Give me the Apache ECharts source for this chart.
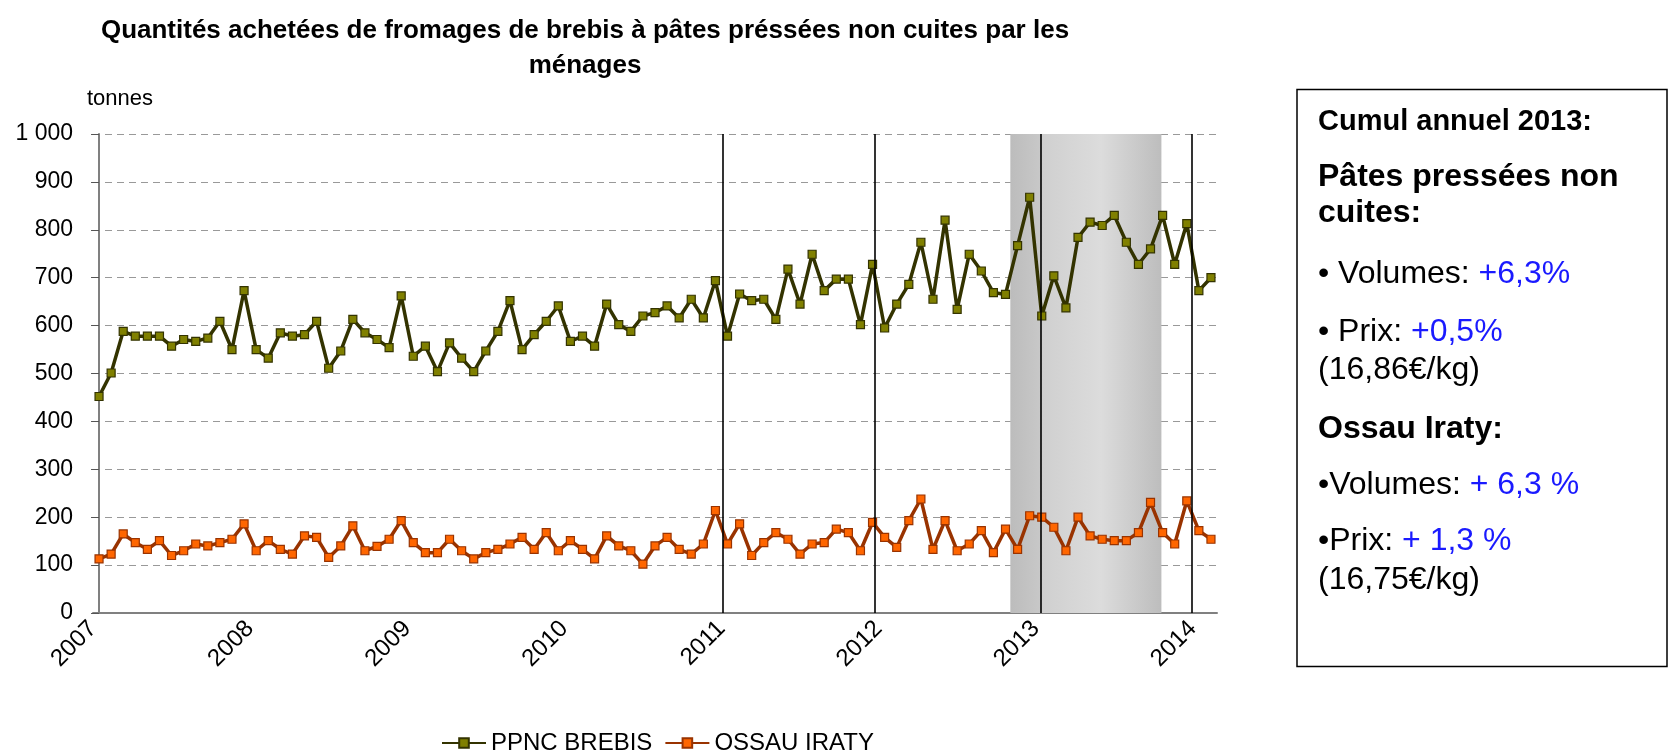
<!DOCTYPE html>
<html>
<head>
<meta charset="utf-8">
<script src="https://cdn.jsdelivr.net/npm/echarts@6/dist/echarts.min.js"></script>
<style>
  html, body { margin: 0; padding: 0; background: #fff; }
  #chart { width: 1670px; height: 750px; }
</style>
</head>
<body>
<div id="chart"></div>
<script>
// periodes de 4 semaines (13 par an), de 2007 P1 a 2014 P2
var years = ['2007', '2008', '2009', '2010', '2011', '2012', '2013', '2014'];
var periodsPerYear = 13;

var ppncBrebis = [
  452, 501, 588, 578, 578, 578, 557, 571, 567, 574, 609, 550, 673,
  550, 532, 585, 578, 581, 609, 511, 547, 613, 585, 571, 554, 662,
  536, 557, 504, 564, 532, 504, 547, 588, 652, 550, 581, 609, 641,
  567, 578, 557, 645, 602, 588, 620, 627, 641, 616, 655, 616, 694,
  578, 666, 652, 655, 613, 718, 645, 749, 673, 697, 697, 602, 728,
  595, 645, 686, 774, 655, 820, 634, 749, 714, 669, 665, 767, 868,
  620, 704, 637, 784, 816, 809, 830, 774, 728, 760, 830, 728, 813,
  673, 700
];
var ossauIraty = [
  113, 123, 165, 147, 133, 151, 120, 130, 144, 140, 147, 154, 186,
  130, 151, 133, 123, 161, 158, 116, 140, 182, 130, 139, 154, 193,
  147, 126, 126, 154, 130, 113, 126, 133, 144, 158, 133, 168, 130,
  151, 133, 113, 161, 140, 130, 102, 140, 158, 133, 123, 144, 214,
  144, 186, 120, 147, 168, 154, 123, 144, 147, 175, 168, 130, 189,
  158, 137, 193, 238, 133, 193, 130, 144, 172, 126, 175, 133, 203,
  200, 179, 130, 200, 161, 154, 151, 151, 168, 231, 168, 144, 234,
  172, 154
];

// traits verticaux (debut d'annee) et zone grisee, en rang de periode
var yearLines = [51.6, 64.2, 77.9, 90.4];
var shadedSpan = [75.4, 87.9];

var categories = [];
for (var i = 0; i < ppncBrebis.length; i++) {
  var y = years[Math.floor(i / periodsPerYear)];
  categories.push(y + ' P' + (i % periodsPerYear + 1));
}
var yearTicks = years.map(function (y, k) { return k * periodsPerYear - 0.5; });

var FONT = 'Liberation Sans, Arial, sans-serif';

function boxLine(y, text, font) {
  return { type: 'text', x: 0, y: y, style: { text: text, font: font, fill: '#000', verticalAlign: 'middle' } };
}
function boxRich(y, label, value) {
  return {
    type: 'text', x: 0, y: y,
    style: {
      text: '{n|' + label + '}{b|' + value + '}',
      verticalAlign: 'middle',
      rich: {
        n: { font: '32px ' + FONT, fill: '#000' },
        b: { font: '32px ' + FONT, fill: '#1a1aff' }
      }
    }
  };
}

var chart = echarts.init(document.getElementById('chart'));
chart.setOption({
  backgroundColor: '#fff',
  animation: false,
  title: {
    text: 'Quantités achetées de fromages de brebis à pâtes préssées non cuites par les\nménages',
    left: 580,
    top: 8,
    textAlign: 'center',
    textStyle: { fontFamily: FONT, fontSize: 26, fontWeight: 'bold', color: '#000', lineHeight: 35 }
  },
  legend: {
    data: ['PPNC BREBIS', 'OSSAU IRATY'],
    left: 436,
    top: 726,
    itemWidth: 44,
    itemHeight: 12,
    itemGap: 12,
    textStyle: { fontFamily: FONT, fontSize: 24, color: '#000' }
  },
  grid: { left: 93, right: 453, top: 134, bottom: 137, containLabel: false },
  xAxis: [{
    type: 'category',
    data: categories,
    boundaryGap: true,
    axisLine: { lineStyle: { color: '#808080', width: 2 } },
    axisTick: { interval: 0, length: 8, lineStyle: { color: '#222', width: 1 } },
    axisLabel: { show: false },
    splitLine: { show: false }
  }, {
    type: 'value',
    min: -0.5,
    max: categories.length - 0.5,
    position: 'bottom',
    axisLine: { show: false },
    axisTick: { show: false },
    splitLine: { show: false },
    axisLabel: {
      customValues: yearTicks,
      rotate: 45,
      margin: 12,
      fontFamily: FONT,
      fontSize: 24,
      color: '#000',
      formatter: function (v) { return years[Math.round((v + 0.5) / periodsPerYear)]; }
    }
  }],
  yAxis: {
    type: 'value',
    min: 0,
    max: 1000,
    interval: 100,
    axisLine: { show: true, lineStyle: { color: '#808080', width: 2 } },
    axisTick: { show: true, length: 8, lineStyle: { color: '#555' } },
    axisLabel: {
      margin: 20,
      fontFamily: FONT,
      fontSize: 23,
      color: '#000',
      formatter: function (v) { return v >= 1000 ? '1 000' : String(v); }
    },
    splitLine: { lineStyle: { color: '#999', type: [7, 5], width: 1 } }
  },
  series: [{
    name: 'zone',
    type: 'line',
    xAxisIndex: 1,
    data: [[-0.5, 0]],
    symbol: 'none',
    lineStyle: { opacity: 0 },
    silent: true,
    z: -1,
    markArea: {
      silent: true,
      itemStyle: {
        color: {
          type: 'linear', x: 0, y: 0, x2: 1, y2: 0,
          colorStops: [
            { offset: 0, color: '#bcbcbc' },
            { offset: 0.2, color: '#c8c8c8' },
            { offset: 0.2, color: '#cfcfcf' },
            { offset: 0.6, color: '#dcdcdc' },
            { offset: 1, color: '#bdbdbd' }
          ]
        }
      },
      data: [[{ coord: [shadedSpan[0], 1000] }, { coord: [shadedSpan[1], 0] }]]
    }
  }, {
    name: 'traits',
    type: 'line',
    xAxisIndex: 1,
    data: [[-0.5, 0]],
    symbol: 'none',
    lineStyle: { opacity: 0 },
    silent: true,
    z: 1,
    markLine: {
      silent: true,
      symbol: 'none',
      label: { show: false },
      lineStyle: { color: '#000', width: 1.6, type: 'solid' },
      data: yearLines.map(function (x) {
        return [{ coord: [x, 1000] }, { coord: [x, 0] }];
      })
    }
  }, {
    name: 'PPNC BREBIS',
    type: 'line',
    data: ppncBrebis,
    symbol: 'rect',
    symbolSize: 8,
    z: 3,
    lineStyle: { color: '#333300', width: 3.5 },
    itemStyle: { color: '#808000', borderColor: '#333300', borderWidth: 1.2 }
  }, {
    name: 'OSSAU IRATY',
    type: 'line',
    data: ossauIraty,
    symbol: 'rect',
    symbolSize: 8,
    z: 3,
    lineStyle: { color: '#993300', width: 3.5 },
    itemStyle: { color: '#ff6600', borderColor: '#993300', borderWidth: 1.2 }
  }],
  graphic: [
    {
      type: 'text', left: 87, top: 88,
      style: { text: 'tonnes', fontFamily: FONT, fontSize: 22, fill: '#000' }
    },
    {
      type: 'rect',
      shape: { x: 1297, y: 89.5, width: 370, height: 577 },
      style: { fill: '#fff', stroke: '#000', lineWidth: 1.5 }
    },
    {
      type: 'group',
      x: 1318,
      y: 0,
      children: [
        boxLine(122, 'Cumul annuel 2013:', 'bold 29px ' + FONT),
        boxLine(177, 'Pâtes pressées non', 'bold 32px ' + FONT),
        boxLine(213, 'cuites:', 'bold 32px ' + FONT),
        boxRich(274, '• Volumes: ', '+6,3%'),
        boxRich(332, '• Prix: ', '+0,5%'),
        boxLine(370, '(16,86€/kg)', '32px ' + FONT),
        boxLine(429, 'Ossau Iraty:', 'bold 32px ' + FONT),
        boxRich(485, '•Volumes: ', '+ 6,3 %'),
        boxRich(541, '•Prix: ', '+ 1,3 %'),
        boxLine(580, '(16,75€/kg)', '32px ' + FONT)
      ]
    }
  ]
});
</script>
</body>
</html>
